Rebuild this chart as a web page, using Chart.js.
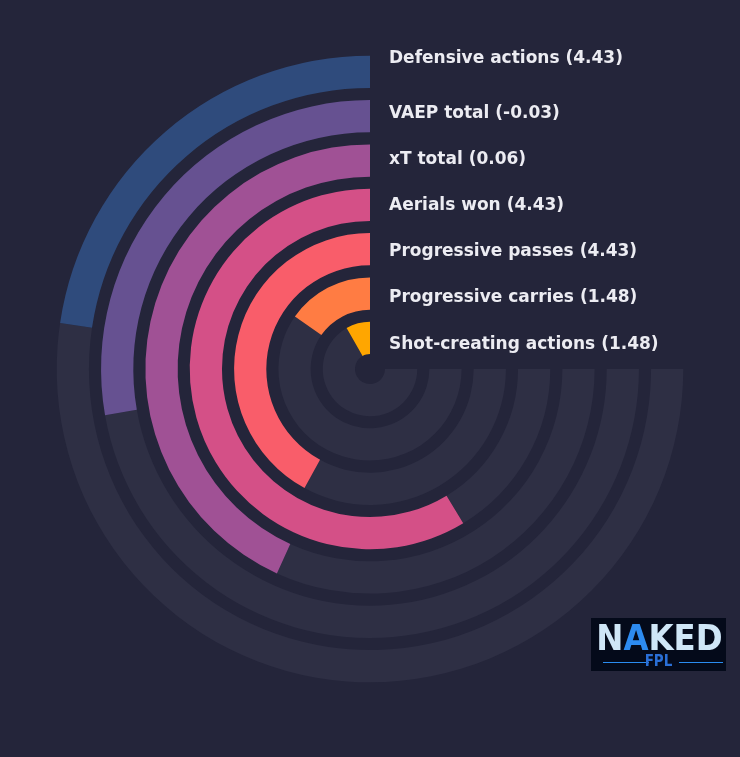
<!DOCTYPE html>
<html>
<head>
<meta charset="utf-8">
<script src="https://cdn.jsdelivr.net/npm/chart.js@4.4.1/dist/chart.umd.min.js"></script>
<style>
  html, body { margin: 0; padding: 0; background: #24253a; }
  #wrap { position: relative; width: 740px; height: 757px; }
  #chart { position: absolute; left: 0; top: 0; }
  .logo {
    position: absolute; left: 591px; top: 618px; width: 135px; height: 53px;
    background: #040a1a; font-family: "DejaVu Sans Condensed", "DejaVu Sans", sans-serif;
  }
  .logo .naked {
    position: absolute; left: 1px; top: -1px; width: 135px; text-align: center;
    font-weight: bold; font-size: 36px; letter-spacing: 0px; color: #cfe6f7;
  }
  .logo .naked span { color: #2d8bf0; }
  .logo .fpl {
    position: absolute; left: 0; top: 34px; width: 135px; text-align: center;
    font-weight: bold; font-size: 15px; color: #2a6fd6;
  }
  .logo .line { position: absolute; top: 44px; height: 1px; background: #2a8cf0; }
</style>
</head>
<body>
<div id="wrap">
  <canvas id="chart" width="740" height="757"></canvas>
  <div class="logo">
    <div class="naked">N<span>A</span>KED</div>
    <div class="line" style="left:12px;width:46px"></div>
    <div class="fpl">FPL</div>
    <div class="line" style="left:88px;width:44px"></div>
  </div>
</div>
<script>
// metrics, outermost ring first
const metricNames = ['Defensive actions', 'VAEP total', 'xT total', 'Aerials won',
    'Progressive passes', 'Progressive carries', 'Shot-creating actions'];
const metricValues = ['4.43', '-0.03', '0.06', '4.43', '4.43', '1.48', '1.48'];
// percentile (share of the 270 degree track that is filled)
const percentiles = [30.2, 37.0, 57.6, 78.2, 56.0, 20.4, 11.0];
const ringColors = ['#2f4b7c', '#665191', '#a05195', '#d45087', '#f95d6a', '#ff7c43', '#ffa600'];

const trackColor = '#2e2f44';
const bgColor = '#24253a';

// build datasets: ring, spacer, ring, spacer ...
const datasets = [];
metricNames.forEach((name, i) => {
    if (i > 0) {
        datasets.push({
            label: 'gap',
            data: [1],
            backgroundColor: ['rgba(0,0,0,0)'],
            borderWidth: 0,
            weight: 12
        });
    }
    const p = percentiles[i];
    datasets.push({
        label: name,
        data: [100 - p, p, 100 / 3],
        backgroundColor: [trackColor, ringColors[i], 'rgba(0,0,0,0)'],
        borderWidth: 0,
        weight: 32,
        isRing: true
    });
});

// draw text labels next to each ring
const ringLabels = {
    id: 'ringLabels',
    afterDatasetsDraw(chart) {
        const ctx = chart.ctx;
        ctx.save();
        ctx.font = 'bold 17px "DejaVu Sans", sans-serif';
        ctx.fillStyle = '#ececf2';
        ctx.textBaseline = 'middle';
        ctx.textAlign = 'left';
        let k = 0;
        chart.data.datasets.forEach((ds, di) => {
            if (!ds.isRing) return;
            const arc = chart.getDatasetMeta(di).data[1];
            const mid = (arc.outerRadius + arc.innerRadius) / 2;
            let y = arc.y - mid * 1.04 + 7.5;
            // outermost label sits at the top edge of its ring
            if (k === 0) y = arc.y - arc.outerRadius + 3;
            ctx.fillText(metricNames[k] + ' (' + metricValues[k] + ')', arc.x + 19, y);
            k++;
        });
        ctx.restore();
    }
};

new Chart(document.getElementById('chart'), {
    type: 'doughnut',
    data: { labels: ['rest', 'value', 'empty'], datasets: datasets },
    options: {
        responsive: false,
        animation: false,
        rotation: 90,
        circumference: 360,
        cutout: 15,
        hoverOffset: 0,
        layout: { padding: { left: 56.7, right: 56.7, top: 55.7, bottom: 74.7 } },
        plugins: {
            legend: { display: false },
            tooltip: { enabled: false }
        }
    },
    plugins: [ringLabels]
});
</script>
</body>
</html>
